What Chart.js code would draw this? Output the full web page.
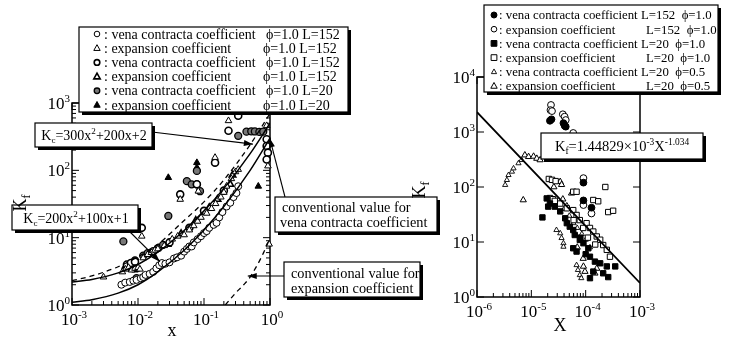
<!DOCTYPE html>
<html>
<head>
<meta charset="utf-8">
<script src="https://cdn.jsdelivr.net/npm/chart.js@4.4.1/dist/chart.umd.min.js"></script>
<style>
  html, body { margin: 0; padding: 0; background: #fff; }
  #wrap { position: relative; width: 731px; height: 338px; }
  #wrap canvas { position: absolute; left: 0; top: 0; }
</style>
</head>
<body>
<div id="wrap">
  <canvas id="leftChart" width="731" height="338"></canvas>
  <canvas id="rightChart" width="731" height="338"></canvas>
</div>
<script>
// ********* LEFT PANEL DATA (x, Kf) *********
const curveX = [0.001, 0.002, 0.005, 0.01, 0.02, 0.05, 0.1, 0.2, 0.5, 1];
const kcUpper = [2.2, 2.4, 3.0, 4.0, 6.1, 12.8, 25, 54, 177, 500];
const kcLower = [1.1, 1.2, 1.5, 2.0, 3.1, 6.5, 13, 29, 100, 300];
const convVena = [2.3, 2.7, 3.7, 5.2, 8, 18, 34, 72, 240, 700];
const convExpX = [0.21, 0.3, 0.4, 0.5, 0.6, 0.7, 0.8, 0.9, 1.0];
const convExp = [1.0, 1.5, 2.0, 2.6, 3.5, 4.6, 6.0, 7.8, 9.9];

// vena contracta, phi=1.0 L=152 (open circle)
const vc152aX = [0.0056, 0.0064, 0.0075, 0.0085, 0.0095, 0.011, 0.012, 0.013, 0.015, 0.017, 0.019, 0.021, 0.023, 0.026, 0.03, 0.035, 0.039, 0.045, 0.05, 0.055, 0.06, 0.065, 0.07, 0.08, 0.09, 0.1, 0.11, 0.12, 0.14, 0.155, 0.17, 0.19, 0.22, 0.25, 0.28, 0.31, 0.33];
const vc152aY = [2.0, 2.15, 2.2, 2.3, 2.36, 2.5, 2.6, 2.8, 2.9, 3.1, 3.5, 3.9, 4.2, 4.1, 4.3, 4.9, 5.1, 5.4, 6.2, 6.8, 7.4, 7.4, 8.5, 9.5, 10.5, 11.7, 12.5, 14, 15.5, 16.6, 20, 24, 29, 33, 40, 46, 58];
// expansion, phi=1.0 L=152 (open triangle)
const ex152aX = [0.003, 0.0058, 0.0065, 0.0072, 0.008, 0.009, 0.01, 0.0107, 0.012, 0.014, 0.016, 0.018, 0.02, 0.025, 0.033, 0.04, 0.05, 0.06, 0.07, 0.08, 0.09, 0.11, 0.13, 0.15, 0.18, 0.2, 0.22, 0.26, 0.3, 0.33, 0.0114, 0.0436, 0.082, 0.147, 0.235, 0.89, 0.93, 0.97];
const ex152aY = [2.6, 3.1, 3.4, 3.6, 3.3, 3.5, 3.6, 3.4, 5.0, 5.6, 6.0, 6.5, 6.8, 7.6, 9.5, 10.5, 11, 13, 15, 17.5, 20, 23, 27, 32, 40, 47, 58, 75, 95, 103, 10.5, 37, 49, 155, 545, 460, 116, 8];
// vena contracta, phi=1.0 L=152 (bold circle)
const vc152bX = [0.0114, 0.0436, 0.078, 0.147, 0.235, 0.33, 0.89, 0.89, 0.93, 0.89, 0.0068, 0.0078, 0.009, 0.03, 0.06, 0.1, 0.2];
const vc152bY = [14, 44, 62, 130, 387, 645, 290, 230, 183, 145, 4.0, 4.2, 4.4, 8.5, 14, 25, 50];
// expansion, phi=1.0 L=152 (bold triangle)
const ex152bX = [0.0065, 0.015, 0.028, 0.045, 0.075, 0.12, 0.16, 0.25, 0.27];
const ex152bY = [3.8, 5.8, 8, 11.5, 18, 28, 37, 62, 85];
// vena contracta, phi=1.0 L=20 (shaded circle)
const vc20X = [0.006, 0.0288, 0.055, 0.065, 0.078, 0.087, 0.078, 0.33, 0.44, 0.52, 0.59, 0.69, 0.79, 0.012, 0.014, 0.017, 0.02, 0.024, 0.009, 0.0095];
const vc20Y = [8.8, 21, 69, 62, 62, 49, 98, 325, 375, 380, 378, 372, 375, 5.4, 5.9, 6.3, 7, 7.8, 4.6, 2.5];
// expansion, phi=1.0 L=20 (filled triangle)
const ex20X = [0.0288, 0.078, 0.078, 0.665, 0.0085, 0.009, 0.0095];
const ex20Y = [78, 130, 110, 58, 3.4, 3.3, 3.4];

// ********* RIGHT PANEL DATA (X, Kf) *********
const fitX = [1e-6, 1e-3];
const fitY = [2300, 1.8];

const rVc152X = [2.2e-5, 2.35e-5, 3.9e-5, 4.1e-5, 4.3e-5, 9.1e-5, 9.1e-5, 1.28e-4];
const rVc152Y = [1600, 1700, 1450, 1300, 1250, 120, 57, 42];
const rEx152X = [2.3e-5, 2.25e-5, 2.4e-5, 3.8e-5, 4.1e-5, 4.3e-5, 5.9e-5, 9.1e-5, 9.1e-5, 1.28e-4];
const rEx152Y = [3100, 2500, 2400, 2100, 1900, 1650, 960, 145, 47, 33];
const rVc20X = [1.6e-5, 1.92e-5, 2.04e-5, 2.2e-5, 2.7e-5, 3.4e-5, 4.2e-5, 4.5e-5, 5.1e-5, 5.9e-5, 6.3e-5, 7.8e-5, 9.1e-5, 1.12e-4, 5.9e-5, 6.8e-5, 1.2e-4, 1.48e-4, 1.85e-4, 2.45e-4, 2.1e-4, 2.6e-4, 1.2e-4, 3.5e-4, 1.38e-4, 8e-5, 1e-4];
const rVc20Y = [28, 62, 44, 50, 44, 36, 27, 22, 19, 16.5, 13.4, 10.9, 9.5, 7.7, 7.7, 6.7, 5.4, 4.4, 4.1, 3.6, 2.7, 2.3, 2.2, 3.6, 2.9, 12, 6];
const rEx20X = [2.1e-5, 2.4e-5, 2.8e-5, 2.2e-5, 2.5e-5, 2.7e-5, 3.4e-5, 4.5e-5, 5.9e-5, 6.8e-5, 7.8e-5, 1.04e-4, 1.2e-4, 1.38e-4, 1.6e-4, 1.85e-4, 2.1e-4, 2.45e-4, 2.8e-4, 5.9e-5, 6.8e-5, 1.38e-4, 1.7e-4, 2.6e-4, 3.2e-4, 2.3e-4, 9e-5, 1.1e-4, 1.5e-4, 6e-5];
const rEx20Y = [140, 135, 128, 63, 60, 56, 50, 41, 38, 31, 25, 22, 18, 15.5, 12.6, 11, 8.8, 7.2, 5.4, 82, 82, 58, 55, 35, 37, 100, 18, 12, 9, 25];
const rVc05X = [3.3e-6, 3.55e-6, 3.8e-6, 4.4e-6, 4.7e-6, 5.8e-6, 6.6e-6, 2.9e-5, 3.4e-5, 3.6e-5, 3.9e-5, 3.9e-5, 6.8e-5, 7.2e-5, 7.8e-5, 8.3e-5, 4e-5, 5e-5, 6e-5, 7e-5, 8.5e-5, 1e-4, 1.2e-4];
const rVc05Y = [109, 134, 165, 190, 218, 270, 310, 16.5, 14.4, 11.8, 9.5, 8.2, 3.8, 3.1, 2.5, 2.2, 40, 30, 22, 18, 14, 11, 8];
const rEx05X = [7.6e-6, 8.9e-6, 1.1e-5, 1.26e-5, 1.45e-5, 7.1e-6, 3.4e-5, 3.6e-5, 5.5e-5, 9.1e-5, 9.7e-5, 1.48e-4, 1.6e-4, 2.6e-5, 3.8e-5, 4.5e-5, 7e-5, 9e-5];
const rEx05Y = [380, 355, 360, 330, 310, 58, 125, 110, 77, 3.6, 2.9, 2.7, 3.3, 100, 60, 45, 8, 5];

// ********* HELPERS *********
const FONT = "'Liberation Serif', 'Times New Roman', serif";

const pts = (xs, ys) => xs.map((x, i) => ({ x: x, y: ys[i] }));

const lineDs = (xs, ys, dash, width) => ({
  data: pts(xs, ys),
  showLine: true,
  pointRadius: 0,
  borderColor: "#000",
  borderWidth: width,
  borderDash: dash,
  cubicInterpolationMode: "monotone",
  fill: false,
});

const pointDs = (xs, ys, style, radius, fillColor, width) => ({
  data: pts(xs, ys),
  showLine: false,
  pointStyle: style,
  pointRadius: radius,
  pointBackgroundColor: fillColor,
  pointBorderColor: "#000",
  pointBorderWidth: width,
  clip: false,
});

// text with sub / superscript parts
const richWidth = (ctx, segs, size) => {
  let w = 0;
  segs.forEach((s) => {
    ctx.font = (s.sup || s.sub ? size * 0.65 : size) + "px " + FONT;
    w += ctx.measureText(s.t).width;
  });
  return w;
};
const drawRich = (ctx, segs, x, y, size, align) => {
  const w = richWidth(ctx, segs, size);
  let cx = align == "center" ? x - w / 2 : align == "right" ? x - w : x;
  ctx.textAlign = "left";
  ctx.textBaseline = "alphabetic";
  ctx.fillStyle = "#000";
  segs.forEach((s) => {
    const sz = s.sup || s.sub ? size * 0.65 : size;
    ctx.font = sz + "px " + FONT;
    const dy = s.sup ? -size * 0.42 : s.sub ? size * 0.22 : 0;
    ctx.fillText(s.t, cx, y + dy);
    cx += ctx.measureText(s.t).width;
  });
};
const pow10 = (e) => [{ t: "10" }, { t: String(e), sup: true }];

const drawMarker = (ctx, style, r, fillColor, width, x, y) => {
  ctx.save();
  ctx.lineWidth = width;
  ctx.strokeStyle = "#000";
  ctx.fillStyle = fillColor;
  ctx.beginPath();
  if (style == "circle") {
    ctx.arc(x, y, r, 0, Math.PI * 2);
  } else if (style == "rect") {
    ctx.rect(x - r * 0.9, y - r * 0.9, r * 1.8, r * 1.8);
  } else {
    ctx.moveTo(x, y - r * 1.1);
    ctx.lineTo(x + r, y + r * 0.7);
    ctx.lineTo(x - r, y + r * 0.7);
    ctx.closePath();
  }
  ctx.fill();
  ctx.stroke();
  ctx.restore();
};

const shadowBox = (ctx, x, y, w, h) => {
  ctx.save();
  ctx.fillStyle = "#000";
  ctx.fillRect(x + 3, y + 3, w, h);
  ctx.fillStyle = "#fff";
  ctx.fillRect(x, y, w, h);
  ctx.strokeStyle = "#000";
  ctx.lineWidth = 1.2;
  ctx.strokeRect(x, y, w, h);
  ctx.restore();
};

const drawArrow = (ctx, x1, y1, x2, y2) => {
  ctx.save();
  ctx.strokeStyle = "#000";
  ctx.fillStyle = "#000";
  ctx.lineWidth = 1.1;
  ctx.beginPath();
  ctx.moveTo(x1, y1);
  ctx.lineTo(x2, y2);
  ctx.stroke();
  const a = Math.atan2(y2 - y1, x2 - x1);
  ctx.beginPath();
  ctx.moveTo(x2, y2);
  ctx.lineTo(x2 - 9 * Math.cos(a) + 3 * Math.sin(a), y2 - 9 * Math.sin(a) - 3 * Math.cos(a));
  ctx.lineTo(x2 - 9 * Math.cos(a) - 3 * Math.sin(a), y2 - 9 * Math.sin(a) + 3 * Math.cos(a));
  ctx.closePath();
  ctx.fill();
  ctx.restore();
};

// frame, inward log ticks and 10^n labels, all taken from the chart scales
const framePlugin = (cfg) => ({
  id: "frame",
  beforeDatasetsDraw(chart) {
    const ctx = chart.ctx;
    const a = chart.chartArea;
    const sx = chart.scales.x;
    const sy = chart.scales.y;
    ctx.save();
    ctx.strokeStyle = "#000";
    ctx.lineWidth = 1.5;
    ctx.strokeRect(a.left, a.top, a.right - a.left, a.bottom - a.top);
    ctx.lineWidth = 1;
    ctx.beginPath();
    for (let e = cfg.xExp[0]; e <= cfg.xExp[1]; e++) {
      for (let m = 1; m <= 9; m++) {
        if (m > 1 && e == cfg.xExp[1]) continue;
        const p = sx.getPixelForValue(m * Math.pow(10, e));
        const len = m == 1 ? cfg.major : cfg.minor;
        ctx.moveTo(p, a.bottom);
        ctx.lineTo(p, a.bottom - len);
        ctx.moveTo(p, a.top);
        ctx.lineTo(p, a.top + len);
      }
    }
    for (let e = cfg.yExp[0]; e <= cfg.yExp[1]; e++) {
      for (let m = 1; m <= 9; m++) {
        if (m > 1 && (e == cfg.yExp[1] || !cfg.yMinor)) continue;
        const p = sy.getPixelForValue(m * Math.pow(10, e));
        const len = m == 1 ? cfg.major : cfg.minor;
        ctx.moveTo(a.left, p);
        ctx.lineTo(a.left + len, p);
        ctx.moveTo(a.right, p);
        ctx.lineTo(a.right - len, p);
      }
    }
    ctx.stroke();
    ctx.restore();
    for (let e = cfg.xExp[0]; e <= cfg.xExp[1]; e++) {
      drawRich(ctx, pow10(e), sx.getPixelForValue(Math.pow(10, e)) + 2, a.bottom + cfg.xLabelDy, cfg.tickSize, "center");
    }
    for (let e = cfg.yExp[0]; e <= cfg.yExp[1]; e++) {
      drawRich(ctx, pow10(e), a.left - 2, sy.getPixelForValue(Math.pow(10, e)) + 6, cfg.tickSize, "right");
    }
  },
});

const overlayPlugin = (draw) => ({
  id: "overlay",
  afterDraw(chart) {
    draw(chart, chart.ctx);
  },
});

const drawLegend = (ctx, box, rows) => {
  shadowBox(ctx, box.x, box.y, box.w, box.h);
  rows.forEach((r, i) => {
    const y = box.y + box.first + i * box.step;
    drawMarker(ctx, r.style, r.r, r.fill, r.lw, box.markerX, y);
    ctx.fillStyle = "#000";
    ctx.font = box.size + "px " + FONT;
    ctx.textAlign = "left";
    ctx.textBaseline = "middle";
    ctx.fillText(r.text, box.textX, y + 1);
    ctx.fillText(r.param, r.px, y + 1);
  });
};

const baseOptions = (pad, xr, yr) => ({
  responsive: false,
  animation: false,
  devicePixelRatio: 1,
  events: [],
  layout: { padding: pad },
  plugins: { legend: { display: false }, tooltip: { enabled: false } },
  scales: {
    x: { type: "logarithmic", min: xr[0], max: xr[1], display: false },
    y: { type: "logarithmic", min: yr[0], max: yr[1], display: false },
  },
});

// ********* LEFT CHART *********
const leftChart = new Chart(document.getElementById("leftChart"), {
  type: "scatter",
  data: {
    datasets: [
      lineDs(curveX, kcLower, [], 1.5),
      lineDs(curveX, kcUpper, [], 1.5),
      lineDs(curveX, convVena, [5, 4], 1.3),
      lineDs(convExpX, convExp, [5, 4], 1.3),
      pointDs(vc152aX, vc152aY, "circle", 3.5, "#fff", 1),
      pointDs(ex152aX, ex152aY, "triangle", 3.8, "#fff", 1),
      pointDs(vc152bX, vc152bY, "circle", 3.5, "#fff", 1.6),
      pointDs(ex152bX, ex152bY, "triangle", 3.8, "#fff", 1.6),
      pointDs(vc20X, vc20Y, "circle", 3.5, "#777", 1.3),
      pointDs(ex20X, ex20Y, "triangle", 3.8, "#000", 1),
    ],
  },
  options: baseOptions({ left: 72, top: 103, right: 731 - 270, bottom: 338 - 305 }, [1e-3, 1], [1, 1000]),
  plugins: [
    framePlugin({ xExp: [-3, 0], yExp: [0, 3], major: 7, minor: 4, yMinor: true, tickSize: 17, xLabelDy: 20 }),
    overlayPlugin((chart, ctx) => {
      const sx = chart.scales.x;
      const sy = chart.scales.y;
      drawRich(ctx, [{ t: "x" }], 172, 336, 18, "center");

      drawArrow(ctx, 152, 132, sx.getPixelForValue(0.55), sy.getPixelForValue(245));
      drawArrow(ctx, 128, 230, sx.getPixelForValue(0.0215), sy.getPixelForValue(4.4));
      drawArrow(ctx, 285, 197, sx.getPixelForValue(0.99), sy.getPixelForValue(300));
      drawArrow(ctx, 284, 276, sx.getPixelForValue(0.46), sy.getPixelForValue(2.7));

      shadowBox(ctx, 35, 123, 117, 24);
      drawRich(ctx, [{ t: "K" }, { t: "c", sub: true }, { t: "=300x" }, { t: "2", sup: true }, { t: "+200x+2" }], 94, 140, 14, "center");
      shadowBox(ctx, 12, 205, 126, 25);
      drawRich(ctx, [{ t: "K" }, { t: "c", sub: true }, { t: "=200x" }, { t: "2", sup: true }, { t: "+100x+1" }], 76, 223, 14, "center");
      // y title drawn over the Kc box edge
      ctx.save();
      ctx.translate(26, 203);
      ctx.rotate(-Math.PI / 2);
      drawRich(ctx, [{ t: "K" }, { t: "f", sub: true }], 0, 0, 18, "center");
      ctx.restore();

      shadowBox(ctx, 275, 197, 162, 35);
      drawRich(ctx, [{ t: "conventional value for" }], 282, 212, 14.3, "left");
      drawRich(ctx, [{ t: "vena contracta coefficient" }], 280, 227, 14.3, "left");
      shadowBox(ctx, 284, 262, 136, 35);
      drawRich(ctx, [{ t: "conventional value for" }], 291, 278, 14.3, "left");
      drawRich(ctx, [{ t: "expansion coefficient" }], 291, 293, 14.3, "left");

      drawLegend(ctx, { x: 79, y: 27, w: 269, h: 85, first: 7, step: 14.2, markerX: 97, textX: 104, size: 14 }, [
        { style: "circle", r: 2.8, fill: "#fff", lw: 1, text: ": vena contracta coefficient", param: "\u03d5=1.0 L=152", px: 266 },
        { style: "triangle", r: 3.2, fill: "#fff", lw: 1, text: ": expansion coefficient", param: "\u03d5=1.0 L=152", px: 263 },
        { style: "circle", r: 2.8, fill: "#fff", lw: 1.6, text: ": vena contracta coefficient", param: "\u03d5=1.0 L=152", px: 266 },
        { style: "triangle", r: 3.2, fill: "#fff", lw: 1.6, text: ": expansion coefficient", param: "\u03d5=1.0 L=152", px: 263 },
        { style: "circle", r: 2.8, fill: "#777", lw: 1.3, text: ": vena contracta coefficient", param: "\u03d5=1.0 L=20", px: 266 },
        { style: "triangle", r: 3.2, fill: "#000", lw: 1, text: ": expansion coefficient", param: "\u03d5=1.0 L=20", px: 263 },
      ]);
    }),
  ],
});

// ********* RIGHT CHART *********
const rightChart = new Chart(document.getElementById("rightChart"), {
  type: "scatter",
  data: {
    datasets: [
      lineDs(fitX, fitY, [], 1.8),
      pointDs(rVc152X, rVc152Y, "circle", 3.4, "#000", 1),
      pointDs(rEx152X, rEx152Y, "circle", 3.4, "#fff", 1),
      pointDs(rVc20X, rVc20Y, "rect", 3.8, "#000", 1),
      pointDs(rEx20X, rEx20Y, "rect", 3.8, "#fff", 1),
      pointDs(rVc05X, rVc05Y, "triangle", 3, "#fff", 0.9),
      pointDs(rEx05X, rEx05Y, "triangle", 3.6, "#fff", 1),
    ],
  },
  options: baseOptions({ left: 477, top: 77, right: 731 - 640, bottom: 338 - 297 }, [1e-6, 1e-3], [1, 1e4]),
  plugins: [
    framePlugin({ xExp: [-6, -3], yExp: [0, 4], major: 7, minor: 4, yMinor: false, tickSize: 17, xLabelDy: 20 }),
    overlayPlugin((chart, ctx) => {
      ctx.save();
      ctx.translate(425, 190);
      ctx.rotate(-Math.PI / 2);
      drawRich(ctx, [{ t: "K" }, { t: "f", sub: true }], 0, 0, 18, "center");
      ctx.restore();
      drawRich(ctx, [{ t: "X" }], 560, 331, 18, "center");

      shadowBox(ctx, 541, 133, 162, 26);
      drawRich(ctx, [{ t: "K" }, { t: "f", sub: true }, { t: "=1.44829\u00d710" }, { t: "-3", sup: true }, { t: "X" }, { t: "-1.034", sup: true }], 622, 151, 14.5, "center");

      drawLegend(ctx, { x: 484, y: 5, w: 234, h: 87, first: 10, step: 14.2, markerX: 494, textX: 499, size: 12.8 }, [
        { style: "circle", r: 3, fill: "#000", lw: 1, text: ": vena contracta coefficient", param: "L=152  \u03d5=1.0", px: 641 },
        { style: "circle", r: 2.8, fill: "#fff", lw: 1, text: ": expansion coefficient", param: "L=152  \u03d5=1.0", px: 646 },
        { style: "rect", r: 3.2, fill: "#000", lw: 1, text: ": vena contracta coefficient", param: "L=20  \u03d5=1.0", px: 641 },
        { style: "rect", r: 3.2, fill: "#fff", lw: 1, text: ": expansion coefficient", param: "L=20  \u03d5=1.0", px: 646 },
        { style: "triangle", r: 2.6, fill: "#fff", lw: 0.9, text: ": vena contracta coefficient", param: "L=20  \u03d5=0.5", px: 641 },
        { style: "triangle", r: 3.2, fill: "#fff", lw: 1, text: ": expansion coefficient", param: "L=20  \u03d5=0.5", px: 646 },
      ]);
    }),
  ],
});
</script>
</body>
</html>
